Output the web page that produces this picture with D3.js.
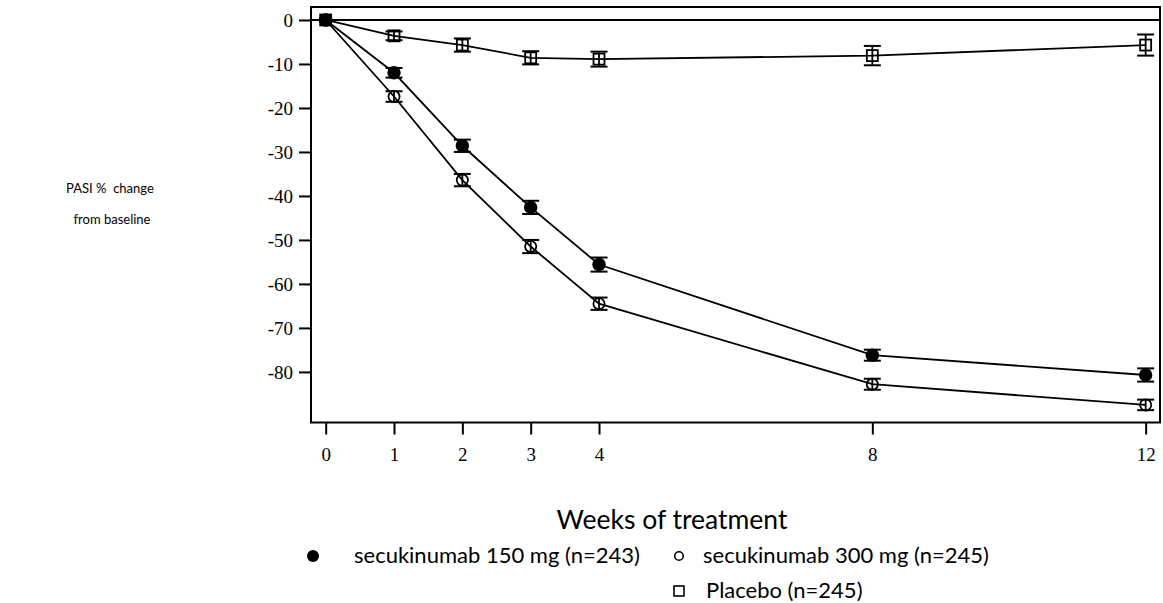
<!DOCTYPE html>
<html>
<head>
<meta charset="utf-8">
<script src="https://cdn.jsdelivr.net/npm/d3@7"></script>
<style>
  body { margin: 0; background: #fff; }
  svg { display: block; }
  text { white-space: pre; }
</style>
</head>
<body>
<svg id="chart" width="1163" height="603"></svg>
<script>
// ---- data ----
const weeks = [0, 1, 2, 3, 4, 8, 12];
const xTickValues = [0, 1, 2, 3, 4, 8, 12];
const yTickValues = [0, -10, -20, -30, -40, -50, -60, -70, -80];

const sec150Mean = [0, -12.0, -28.6, -42.6, -55.6, -76.2, -80.7];
const sec150Err  = [0, 1.1, 1.4, 1.5, 1.6, 1.25, 1.5];
const sec300Mean = [0, -17.4, -36.4, -51.5, -64.5, -82.8, -87.5];
const sec300Err  = [0, 1.2, 1.4, 1.5, 1.4, 1.25, 1.2];
const placeboMean = [0, -3.6, -5.7, -8.6, -8.9, -8.1, -5.7];
const placeboErr  = [0, 1.0, 1.5, 1.5, 1.7, 2.2, 2.4];

const seriesNames = ["secukinumab 150 mg (n=243)", "secukinumab 300 mg (n=245)", "Placebo (n=245)"];
const yAxisLabel = ["PASI %  change", "from baseline"];
const xAxisLabel = "Weeks of treatment";

(function draw() {
const svg = d3.select("#chart");
const mLeft = 311, mRight = 1160, mTop = 7, mBottom = 422.5;

const x = d3.scaleLinear().domain([-0.215, 12.21]).range([mLeft, mRight]);
const y = d3.scaleLinear().domain([-91.5, 2.95]).range([mBottom, mTop]);

const serif = "'Liberation Serif', 'DejaVu Serif', serif";
const sans = "Lato, 'Open Sans', 'Noto Sans', sans-serif";
const fmt = d => String(d);  // plain hyphen-minus like the original

// frame
svg.append("rect")
  .attr("x", mLeft).attr("y", mTop)
  .attr("width", mRight - mLeft).attr("height", mBottom - mTop)
  .attr("fill", "none").attr("stroke", "#000").attr("stroke-width", 2);

// zero reference line
svg.append("line")
  .attr("x1", mLeft).attr("x2", mRight)
  .attr("y1", y(0)).attr("y2", y(0))
  .attr("stroke", "#000").attr("stroke-width", 2);

// axes
const yAxis = d3.axisLeft(y).tickValues(yTickValues).tickSize(12).tickPadding(6).tickFormat(fmt);
const gy = svg.append("g").attr("transform", `translate(${mLeft},0)`).call(yAxis);
gy.select(".domain").remove();
gy.selectAll(".tick line").attr("stroke-width", 2);
gy.selectAll(".tick text").attr("font-family", serif).attr("font-size", 19).attr("fill", "#000");

const xAxis = d3.axisBottom(x).tickValues(xTickValues).tickSize(12).tickPadding(13).tickFormat(fmt);
const gx = svg.append("g").attr("transform", `translate(0,${mBottom})`).call(xAxis);
gx.select(".domain").remove();
gx.selectAll(".tick line").attr("stroke-width", 2);
gx.selectAll(".tick text").attr("font-family", serif).attr("font-size", 19).attr("fill", "#000");

// series
const series = [
  { mean: sec150Mean, err: sec150Err, marker: "filled" },
  { mean: sec300Mean, err: sec300Err, marker: "open" },
  { mean: placeboMean, err: placeboErr, marker: "square" }
];

const line = d3.line().x(d => x(d[0])).y(d => y(d[1]));
const capHalf = 8.5;

series.forEach(s => {
  const pts = weeks.map((w, i) => [w, s.mean[i], s.err[i]]);
  svg.append("path").datum(pts).attr("d", line)
    .attr("fill", "none").attr("stroke", "#000").attr("stroke-width", 1.8);

  const g = svg.append("g");
  pts.forEach(p => {
    const cx = x(p[0]), cy = y(p[1]);
    if (s.marker === "filled") {
      g.append("circle").attr("cx", cx).attr("cy", cy).attr("r", 6.7).attr("fill", "#000");
    } else if (s.marker === "open") {
      g.append("circle").attr("cx", cx).attr("cy", cy).attr("r", 5.6)
        .attr("fill", "none").attr("stroke", "#000").attr("stroke-width", 1.8);
    } else {
      g.append("rect").attr("x", cx - 5.5).attr("y", cy - 5.5).attr("width", 11).attr("height", 11)
        .attr("fill", "none").attr("stroke", "#000").attr("stroke-width", 1.8);
    }
    if (p[2] > 0) {
      const y1 = y(p[1] + p[2]), y2 = y(p[1] - p[2]);
      g.append("line").attr("x1", cx).attr("x2", cx).attr("y1", y1).attr("y2", y2)
        .attr("stroke", "#000").attr("stroke-width", 1.8);
      [y1, y2].forEach(yy => g.append("line")
        .attr("x1", cx - capHalf).attr("x2", cx + capHalf).attr("y1", yy).attr("y2", yy)
        .attr("stroke", "#000").attr("stroke-width", 2));
    }
  });
});

// axis labels
svg.append("text").attr("x", 672).attr("y", 529).attr("text-anchor", "middle")
  .attr("font-family", sans).attr("font-size", 26.5).attr("fill", "#000").text(xAxisLabel);

svg.append("text").attr("x", 110).attr("y", 193).attr("text-anchor", "middle")
  .attr("font-family", sans).attr("font-size", 13).attr("fill", "#000").text(yAxisLabel[0]);
svg.append("text").attr("x", 112).attr("y", 224).attr("text-anchor", "middle")
  .attr("font-family", sans).attr("font-size", 13).attr("fill", "#000").text(yAxisLabel[1]);

// legend
const leg = svg.append("g");
leg.append("circle").attr("cx", 313).attr("cy", 556).attr("r", 6).attr("fill", "#000");
leg.append("text").attr("x", 354).attr("y", 563).attr("font-family", sans).attr("font-size", 22).text(seriesNames[0]);
leg.append("circle").attr("cx", 679).attr("cy", 556).attr("r", 4.3)
  .attr("fill", "none").attr("stroke", "#000").attr("stroke-width", 1.6);
leg.append("text").attr("x", 703).attr("y", 563).attr("font-family", sans).attr("font-size", 22).text(seriesNames[1]);
leg.append("rect").attr("x", 674).attr("y", 586).attr("width", 10).attr("height", 10)
  .attr("fill", "none").attr("stroke", "#000").attr("stroke-width", 1.6);
leg.append("text").attr("x", 706).attr("y", 598).attr("font-family", sans).attr("font-size", 22).text(seriesNames[2]);
})();
</script>
</body>
</html>
